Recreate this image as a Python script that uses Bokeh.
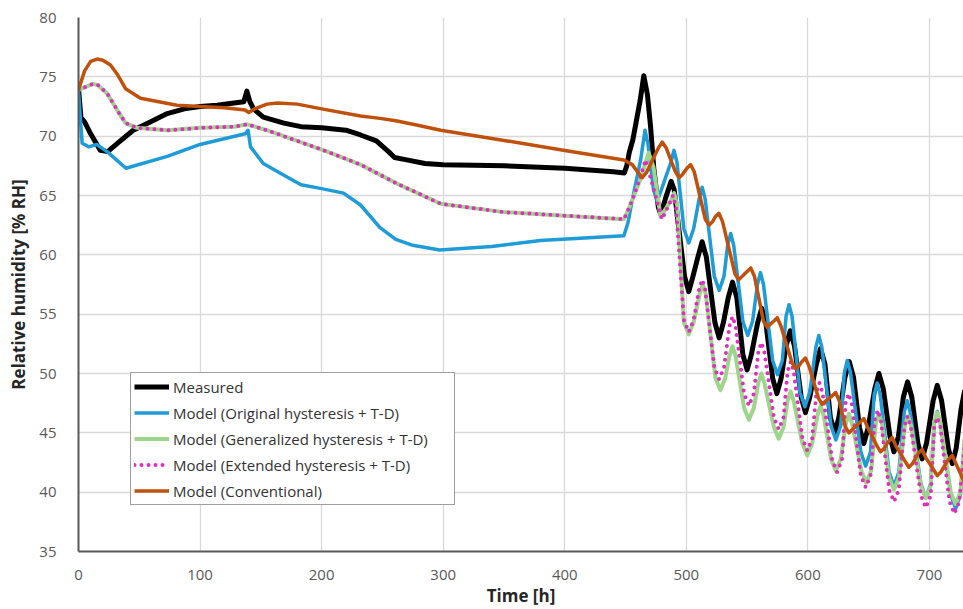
from bokeh.plotting import figure
from bokeh.models import Range1d, FixedTicker, Legend, LegendItem
from bokeh.embed import file_html
from bokeh.resources import INLINE

# ---------------- data ----------------
x_ticks = [0, 100, 200, 300, 400, 500, 600, 700]
y_ticks = [35, 40, 45, 50, 55, 60, 65, 70, 75, 80]

t_meas = [0, 2, 5, 10, 18, 24, 32, 45, 59, 73, 87, 100, 114, 128, 136, 138.5, 141, 144,
          152, 169, 183, 200, 220, 232, 245, 255, 260, 270, 285, 300, 350, 400, 440, 449,
          451, 453, 456, 458, 462, 465, 468, 470.6, 473.3, 477, 479, 483, 487.5, 490,
          498.5, 502, 505.5, 509.5, 513, 516.5, 523.5, 527, 530.5, 534.5, 538, 541.5,
          546.5, 550, 553.5, 558.5, 562, 565.5, 571, 574.5, 578, 582, 585.5, 589,
          594.5, 598, 601.5, 607, 610.4, 614, 618.5, 622, 625.5, 630.5, 634, 637.5,
          642.5, 646, 649.5, 655, 658.4, 662, 667.5, 670.8, 674.5, 678.5, 682, 685.5,
          690.5, 694, 697.5, 703, 706.4, 710, 715.5, 718.8, 722, 726, 729]
rh_meas = [74.0, 71.6, 71.2, 70.2, 68.8, 68.7, 69.4, 70.5, 71.2, 71.9, 72.3, 72.5, 72.6, 72.8,
           72.9, 73.8, 72.9, 72.3, 71.6, 71.1, 70.8, 70.7, 70.5, 70.1, 69.6, 68.7, 68.2, 68.0,
           67.7, 67.6, 67.5, 67.3, 67.0, 66.9, 67.5, 68.6, 69.7, 70.8, 73.0, 75.1, 73.5, 70.8,
           67.2, 64.0, 63.4, 64.8, 66.2, 65.5,
           58.2, 56.9, 58.2, 59.8, 61.1, 59.8, 54.3, 53.0, 54.3, 56.4, 57.7, 56.4,
           51.6, 50.3, 51.6, 54.2, 55.5, 54.2, 49.6, 48.3, 49.6, 52.3, 53.6, 52.3,
           48.0, 46.7, 48.0, 50.8, 52.1, 50.8, 46.3, 45.0, 46.3, 49.7, 51.0, 49.7,
           45.4, 44.1, 45.4, 48.7, 50.0, 48.7, 44.7, 43.4, 44.7, 48.0, 49.3, 48.0,
           44.1, 42.8, 44.1, 47.7, 49.0, 47.7, 43.7, 42.4, 43.7, 47.0, 48.6]

t_orig = [0, 3, 8.5, 15, 23.5, 39, 73, 100, 137, 139.5, 141.5, 152, 169, 183, 199, 218, 232,
          248, 261, 275, 297, 340, 380, 448.6, 452, 455.5, 462.4, 466, 468.5, 473, 476,
          479.5, 487.3, 489.8, 492.3, 498, 502, 506, 510.5, 513, 515.5, 523, 527, 531,
          534, 536.5, 539, 546.5, 550.5, 554.5, 558.5, 561, 563.5, 571, 575, 579,
          582, 584.5, 587, 593.5, 597.5, 601.5, 606.5, 609, 611.5, 619, 623, 627,
          630, 632.4, 635, 643.5, 647.5, 651.5, 654.5, 657, 659.5, 666.8, 670.8, 674.8,
          679.2, 681.7, 684.2, 693, 697, 701, 704, 706.4, 709, 717.5, 721.5, 725.5, 729]
rh_orig = [73.8, 69.4, 69.1, 69.3, 68.7, 67.3, 68.3, 69.3, 70.2, 70.5, 69.1, 67.7, 66.7, 65.9,
           65.6, 65.2, 64.2, 62.3, 61.3, 60.8, 60.4, 60.7, 61.2, 61.6, 62.7, 64.6, 68.0, 70.5,
           69.3, 65.5, 64.5, 65.5, 67.8, 68.8, 67.8, 62.2, 61.0, 62.2, 64.7, 65.7, 64.7,
           58.2, 57.0, 58.2, 60.8, 61.8, 60.8, 54.4, 53.2, 54.4, 57.5, 58.5, 57.5,
           51.1, 49.9, 51.1, 54.8, 55.8, 54.8, 48.4, 47.2, 48.4, 52.2, 53.2, 52.2,
           45.6, 44.4, 45.6, 50.1, 51.1, 50.1, 43.4, 42.2, 43.4, 48.2, 49.2, 48.2,
           41.7, 40.5, 41.7, 46.7, 47.7, 46.7, 40.7, 39.5, 40.7, 45.8, 46.8, 45.8,
           39.8, 38.6, 39.8, 44.5]

t_gen = [0, 12, 16, 23.6, 31.8, 38.7, 48, 73, 100, 128, 138.8, 155, 177, 204.6, 232, 262, 298,
         350, 400, 448.6, 451, 455.5, 462, 469, 473, 478.8, 487.5, 490, 492.5, 498, 502, 506,
         511, 513.5, 516, 524, 528, 532, 535.5, 538, 540.5, 547.5, 551.5, 555.5,
         559.2, 561.7, 564.2, 572, 576, 580, 583.3, 585.8, 588.3, 595.5, 599.5, 603.5,
         607.9, 610.4, 612.9, 619, 623, 627, 631.3, 633.8, 636.3, 644, 648, 652,
         655.9, 658.4, 660.9, 666.8, 670.8, 674.8, 679.8, 682.3, 684.8, 693, 697, 701,
         703.9, 706.4, 708.9, 717.5, 721.5, 725.5, 729]
rh_gen = [73.9, 74.4, 74.3, 73.6, 72.2, 71.1, 70.7, 70.5, 70.7, 70.8, 71.0, 70.5, 69.7, 68.7,
          67.6, 66.0, 64.3, 63.6, 63.3, 63.0, 63.5, 64.6, 66.3, 68.6, 67.4, 63.2, 64.6, 65.2,
          64.2, 54.3, 53.3, 54.3, 56.7, 57.5, 56.7, 49.6, 48.6, 49.6, 51.5, 52.3, 51.5,
          47.1, 46.1, 47.1, 49.2, 50.0, 49.2, 45.5, 44.5, 45.5, 47.7, 48.5, 47.7,
          44.1, 43.1, 44.1, 46.5, 47.3, 46.5, 42.8, 41.8, 42.8, 45.8, 46.6, 45.8,
          41.8, 40.8, 41.8, 45.8, 46.6, 45.8, 41.2, 40.2, 41.2, 45.6, 46.4, 45.6,
          40.5, 39.5, 40.5, 45.9, 46.7, 45.9, 40.0, 39.0, 40.0, 44.5]

t_ext = [0, 12, 16, 23.6, 31.8, 38.7, 48, 73, 100, 128, 138.8, 155, 177, 204.6, 232, 262, 298,
         350, 400, 448.6, 451, 455.5, 462, 466.5, 480, 486.5, 489, 491.5, 498, 502, 506,
         510.5, 513, 515.5, 523, 527, 531, 535.5, 538, 540.5, 547.5, 551.5, 555.5,
         559.2, 561.7, 564.2, 572, 576, 580, 583.3, 585.8, 588.3, 595.5, 599.5, 603.5,
         607, 609.5, 612, 620, 624, 628, 631, 633.5, 636, 643.5, 647.5, 651.5,
         655, 657.5, 660, 666.8, 670.8, 674.8, 679.5, 682, 684.5, 693, 697, 701,
         703.9, 706.4, 708.9, 716.5, 720.5, 724.5, 729]
rh_ext = [73.9, 74.4, 74.3, 73.6, 72.2, 71.1, 70.7, 70.5, 70.7, 70.8, 71.0, 70.5, 69.7, 68.7,
          67.6, 66.0, 64.3, 63.6, 63.3, 63.0, 63.5, 64.6, 66.5, 68.0, 63.0, 64.4, 65.0, 64.0,
          54.5, 53.5, 54.5, 57.1, 57.9, 57.1, 50.5, 49.5, 50.5, 54.0, 54.8, 54.0,
          48.3, 47.3, 48.3, 51.8, 52.6, 51.8, 46.3, 45.3, 46.3, 50.2, 51.0, 50.2,
          44.5, 43.5, 44.5, 48.4, 49.2, 48.4, 42.7, 41.7, 42.7, 47.5, 48.3, 47.5,
          41.4, 40.4, 41.4, 46.1, 46.9, 46.1, 40.2, 39.2, 40.2, 45.6, 46.4, 45.6,
          39.7, 38.7, 39.7, 45.5, 46.3, 45.5, 39.2, 38.2, 39.2, 44.0]

t_conv = [0, 5, 10, 15.4, 20, 26.3, 32, 38.7, 51, 81, 100, 120, 137, 140, 145, 155, 164, 180,
          200, 232, 248, 261, 280, 298, 352.7, 400, 448.6, 455.5, 460.5, 463.7, 467, 477,
          480.2, 483.5, 491, 494, 497, 500.5, 503.5, 506.5, 515.6, 518.6, 521.6, 523.8,
          526.8, 529.8, 540, 543, 546, 550, 553, 556, 563.5, 566.5, 569.5, 571.8, 574.8,
          577.8, 587, 590, 593, 595, 598, 601, 608.8, 611.8, 614.8, 619.8, 622.8, 625.8,
          630.8, 633.8, 636.8, 643, 646, 649, 656.8, 659.8, 662.8, 666.4, 669.4, 672.4,
          680, 683, 686, 691, 694, 697, 703.4, 706.4, 709.4, 715.8, 718.8, 721.8, 729]
rh_conv = [73.9, 75.5, 76.3, 76.5, 76.4, 76.0, 75.2, 74.0, 73.2, 72.6, 72.5, 72.4, 72.2, 72.0,
           72.3, 72.7, 72.8, 72.7, 72.3, 71.7, 71.5, 71.3, 70.9, 70.5, 69.6, 68.8, 68.0, 67.6,
           66.9, 66.5, 66.9, 69.0, 69.5, 69.0, 67.0, 66.5, 66.8, 67.3, 67.6, 67.0, 63.0,
           62.5, 62.8, 63.2, 63.5, 62.8, 58.4, 57.9, 58.2, 58.6, 58.9, 58.2, 54.4, 53.9,
           54.2, 54.4, 54.7, 54.0, 50.9, 50.4, 50.7, 51.0, 51.3, 50.6, 47.9, 47.4, 47.7,
           48.1, 48.4, 47.7, 45.5, 45.0, 45.3, 45.9, 46.2, 45.5, 43.9, 43.4, 43.7, 44.3,
           44.6, 43.9, 42.6, 42.1, 42.4, 43.3, 43.6, 42.9, 41.9, 41.4, 41.7, 42.8, 43.1, 42.4,
           40.8]

labels = ["Measured", "Model (Original hysteresis + T-D)", "Model (Generalized hysteresis + T-D)",
          "Model (Extended hysteresis + T-D)", "Model (Conventional)"]

FONT = "Open Sans"

p = figure(width=963, height=609, x_range=Range1d(0, 728), y_range=Range1d(35, 80),
           output_backend="svg", toolbar_location=None,
           min_border_left=78, min_border_right=0, min_border_top=17, min_border_bottom=56)
p.outline_line_color = None
p.background_fill_color = "white"
p.border_fill_color = "white"

for ax, ticks in ((p.xaxis, x_ticks), (p.yaxis, y_ticks)):
    ax.ticker = FixedTicker(ticks=ticks)
    ax.major_tick_line_color = None
    ax.minor_tick_line_color = None
    ax.axis_line_color = "#595959"
    ax.axis_line_width = 2
    ax.major_label_text_font = FONT
    ax.major_label_text_font_size = "15px"
    ax.major_label_text_color = "#595959"
    ax.axis_label_text_font = FONT
    ax.axis_label_text_font_size = "17px"
    ax.axis_label_text_font_style = "bold"
    ax.axis_label_text_color = "#262626"

p.xaxis.axis_label = "Time [h]"
p.yaxis.axis_label = "Relative humidity [% RH]"
p.xaxis.major_label_standoff = 12
p.xaxis.axis_label_standoff = 1
p.yaxis.major_label_standoff = 16
p.yaxis.axis_label_standoff = 6

p.xgrid.ticker = FixedTicker(ticks=x_ticks)
p.ygrid.ticker = FixedTicker(ticks=y_ticks)
p.grid.grid_line_color = "#d9d9d9"
p.grid.grid_line_width = 1.3

r1 = p.line(t_meas, rh_meas, line_color="black", line_width=5, line_join="round")
r2 = p.line(t_orig, rh_orig, line_color="#1f9bd7", line_width=3.5, line_join="round")
r3 = p.line(t_gen, rh_gen, line_color="#9dd58a", line_width=4, line_join="round")
r4 = p.line(t_ext, rh_ext, line_color="#e02fbe", line_width=4, line_dash="0 7",
            line_cap="round", line_join="round")
r5 = p.line(t_conv, rh_conv, line_color="#c0510d", line_width=3.5, line_join="round")

legend = Legend(items=[LegendItem(label=l, renderers=[r]) for l, r in zip(labels, [r1, r2, r3, r4, r5])],
                location=(52, 46), padding=3, spacing=5, label_height=21, glyph_height=21,
                glyph_width=35, label_standoff=4, label_width=278, margin=0,
                border_line_color="#404040", border_line_width=1.3,
                background_fill_color="white", background_fill_alpha=1,
                label_text_font=FONT, label_text_font_size="15px", label_text_color="#333333")
p.add_layout(legend)

open("out.html", "w").write(file_html(p, INLINE))
